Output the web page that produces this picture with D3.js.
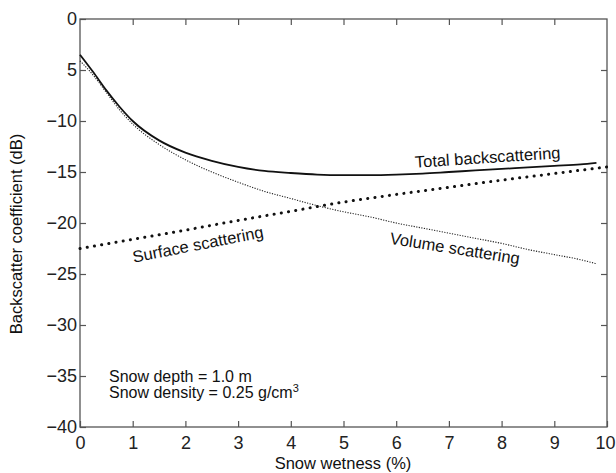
<!DOCTYPE html>
<html>
<head>
<meta charset="utf-8">
<script src="https://cdn.jsdelivr.net/npm/d3@7"></script>
<style>
  body { margin: 0; background: #fff; }
  svg { display: block; font-family: "Liberation Sans", Arial, sans-serif; }
  .axis .domain { display: none; }
  .axis line { stroke: #555; stroke-width: 1.2; }
  .axis text { fill: #222; font-size: 18px; }
</style>
</head>
<body>
<div id="chart"></div>
<script>
// snow wetness (%) sample points
var wetness = [0, 0.25, 0.5, 0.75, 1, 1.5, 2, 2.5, 3, 3.5, 4, 4.5, 5, 5.5, 6, 6.5, 7, 7.5, 8, 8.5, 9, 9.5, 9.8];
var total = [-3.5, -5.2, -7.0, -8.6, -10.0, -11.9, -13.1, -13.9, -14.5, -14.9, -15.1, -15.25, -15.3, -15.3, -15.25, -15.15, -15.0, -14.85, -14.7, -14.55, -14.4, -14.25, -14.1];
var volume = [-4.1, -5.5, -7.2, -8.9, -10.3, -12.3, -13.8, -15.0, -16.0, -16.9, -17.6, -18.3, -18.9, -19.4, -20.0, -20.5, -21.0, -21.5, -22.0, -22.6, -23.1, -23.6, -24.0];

var surfaceX = [0, 1, 2, 3, 4, 5, 6, 7, 8, 9, 10];
var surface = [-22.5, -21.6, -20.7, -19.75, -18.85, -17.95, -17.2, -16.5, -15.8, -15.15, -14.5];

var xTicks = [0, 1, 2, 3, 4, 5, 6, 7, 8, 9, 10];
var yTicks = [0, -5, -10, -15, -20, -25, -30, -35, -40];

var width = 616, height = 473;
var margin = { left: 80, right: 9, top: 19, bottom: 46 };

var svg = d3.select('#chart')
    .append('svg')
        .attr('width', width)
        .attr('height', height);

var x = d3.scaleLinear().domain([0, 10]).range([margin.left, width - margin.right]);
var y = d3.scaleLinear().domain([-40, 0]).range([height - margin.bottom, margin.top]);

function yLabel(d) {
    // the source figure prints the -5 tick without its minus sign
    if (d === -5) return '5';
    return d < 0 ? '\u2212' + Math.abs(d) : String(d);
}

var xAxis = svg.append('g')
    .attr('class', 'axis')
    .attr('transform', 'translate(0,' + y(-40) + ')')
    .call(d3.axisBottom(x).tickValues(xTicks).tickSize(-6).tickPadding(6).tickFormat(d3.format('d')));
xAxis.selectAll('text').attr('dy', '0.9em');
// keep the last label inside the page edge
xAxis.selectAll('.tick').filter(function (d) { return d === 10; })
    .select('text')
        .attr('text-anchor', 'end')
        .attr('x', width - 1 - x(10));

svg.append('g')
    .attr('class', 'axis')
    .attr('transform', 'translate(0,' + y(0) + ')')
    .call(d3.axisTop(x).tickValues(xTicks.slice(1, -1)).tickSize(-6).tickFormat(''));

svg.append('g')
    .attr('class', 'axis')
    .attr('transform', 'translate(' + x(0) + ',0)')
    .call(d3.axisLeft(y).tickValues(yTicks).tickSize(-6).tickPadding(3).tickFormat(yLabel));

svg.append('g')
    .attr('class', 'axis')
    .attr('transform', 'translate(' + x(10) + ',0)')
    .call(d3.axisRight(y).tickValues(yTicks.slice(1, -1)).tickSize(-6).tickFormat(''));

svg.append('rect')
    .attr('x', x(0))
    .attr('y', y(0))
    .attr('width', x(10) - x(0))
    .attr('height', y(-40) - y(0))
    .attr('fill', 'none')
    .attr('stroke', '#555')
    .attr('stroke-width', 1.3);

var line = d3.line()
    .x(function (d) { return x(d[0]); })
    .y(function (d) { return y(d[1]); })
    .curve(d3.curveMonotoneX);

svg.append('path')
    .datum(d3.zip(wetness, volume))
    .attr('d', line)
    .attr('fill', 'none')
    .attr('stroke', '#222')
    .attr('stroke-width', 1.1)
    .attr('stroke-dasharray', '1.2 1.4');

svg.append('path')
    .datum(d3.zip(surfaceX, surface))
    .attr('d', line)
    .attr('fill', 'none')
    .attr('stroke', '#111')
    .attr('stroke-width', 3)
    .attr('stroke-linecap', 'round')
    .attr('stroke-dasharray', '0.1 7.2');

svg.append('path')
    .datum(d3.zip(wetness, total))
    .attr('d', line)
    .attr('fill', 'none')
    .attr('stroke', '#111')
    .attr('stroke-width', 1.8);

var labels = [
    { text: 'Total backscattering', x: 488, y: 163, angle: -3.8 },
    { text: 'Volume scattering', x: 454, y: 254, angle: 9 },
    { text: 'Surface scattering', x: 199, y: 250, angle: -11 }
];

svg.selectAll('.curve-label')
    .data(labels)
    .enter()
    .append('text')
        .attr('class', 'curve-label')
        .attr('text-anchor', 'middle')
        .attr('font-size', '16.5px')
        .attr('fill', '#111')
        .attr('transform', function (d) {
            return 'translate(' + d.x + ',' + d.y + ') rotate(' + d.angle + ')';
        })
        .text(function (d) { return d.text; });

svg.append('text')
    .attr('x', 109)
    .attr('y', 382)
    .attr('font-size', '16px')
    .attr('fill', '#111')
    .text('Snow depth = 1.0 m');

var density = svg.append('text')
    .attr('x', 109)
    .attr('y', 398)
    .attr('font-size', '16px')
    .attr('fill', '#111')
    .text('Snow density = 0.25 g/cm');
density.append('tspan')
    .attr('font-size', '11px')
    .attr('dy', '-6')
    .text('3');

svg.append('text')
    .attr('x', 343)
    .attr('y', 469)
    .attr('text-anchor', 'middle')
    .attr('font-size', '16.5px')
    .attr('fill', '#111')
    .text('Snow wetness (%)');

svg.append('text')
    .attr('transform', 'translate(22,234) rotate(-90)')
    .attr('text-anchor', 'middle')
    .attr('font-size', '16.5px')
    .attr('fill', '#111')
    .text('Backscatter coefficient (dB)');
</script>
</body>
</html>
